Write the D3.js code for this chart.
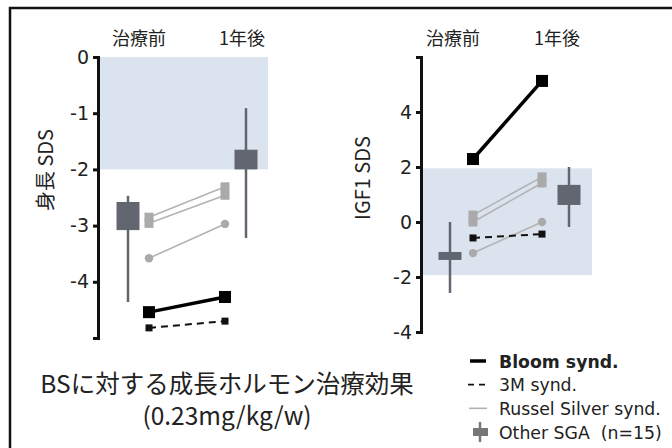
<!DOCTYPE html>
<html>
<head>
<meta charset="utf-8">
<script src="https://cdn.jsdelivr.net/npm/d3@7"></script>
<style>
  body { margin: 0; background: #fff; }
  svg { display: block; }
  .legend-text { white-space: pre; }
</style>
</head>
<body>
<div id="chart"></div>
<script>
// categories
const phases = ['治療前', '1年後'];

// height SDS (left panel)
const hBloom = [-4.54, -4.27];
const h3M = [-4.82, -4.70];
const hRussel = [[-2.85, -2.31], [-2.96, -2.46], [-3.58, -2.97]];
const hRusselShape = ['square', 'square', 'circle'];
// other SGA: [boxLow, boxHigh, whiskerLow, whiskerHigh]
const hSGA = [[-3.08, -2.58, -4.36, -2.47], [-2.0, -1.65, -3.22, -0.91]];
const hNormal = [-2, 0];
const hTicks = [0, -1, -2, -3, -4];

// IGF1 SDS (right panel)
const gBloom = [2.29, 5.13];
const g3M = [-0.58, -0.44];
const gRussel = [[0.25, 1.64], [0.0, 1.42], [-1.13, 0.0]];
const gSGA = [[-1.38, -1.09, -2.58, 0.0], [0.62, 1.35, -0.18, 2.0]];
const gNormal = [-1.93, 1.95];
const gTicks = [4, 2, 0, -2, -4];

const legendItems = ['Bloom synd.', '3M synd.', 'Russel Silver synd.', 'Other SGA  (n=15)'];

const W = 672, H = 448;
const svg = d3.select('#chart').append('svg').attr('width', W).attr('height', H);
svg.append('rect').attr('width', W).attr('height', H).attr('fill', '#fff');

// frame
svg.append('rect')
  .attr('x', 10).attr('y', 8).attr('width', 720).attr('height', 500)
  .attr('fill', 'none').attr('stroke', '#111').attr('stroke-width', 2.5);

const jp = '"Noto Sans CJK JP", sans-serif';
const lat = '"DejaVu Sans", Verdana, sans-serif';

function panel(cfg) {
  const y = d3.scaleLinear().domain(cfg.domain).range(cfg.yRange);
  const x = d3.scaleLinear().domain([0, 1]).range(cfg.xRange);
  const g = svg.append('g');

  // normal range band
  g.append('rect')
    .attr('x', cfg.axisX).attr('width', cfg.bandRight - cfg.axisX)
    .attr('y', y(cfg.normal[1])).attr('height', y(cfg.normal[0]) - y(cfg.normal[1]))
    .attr('fill', '#dbe3ee');

  // axis
  const ax = g.append('g')
    .attr('transform', 'translate(' + cfg.axisX + ',0)')
    .call(d3.axisLeft(y).tickValues(cfg.ticks).tickSize(5).tickSizeOuter(5)
      .tickFormat(d => String(d)).tickPadding(4));
  ax.select('.domain').attr('stroke', '#111').attr('stroke-width', 3);
  ax.selectAll('.tick line').attr('stroke', '#111').attr('stroke-width', 3);
  ax.selectAll('.tick text')
    .attr('font-family', lat).attr('font-size', 19).attr('fill', '#222');

  // axis title
  g.append('text')
    .attr('transform', 'translate(' + cfg.titleX + ',' + cfg.titleY + ') rotate(-90)')
    .attr('text-anchor', 'middle')
    .attr('font-family', jp).attr('font-size', 20).attr('fill', '#222')
    .text(cfg.title);

  // phase labels
  g.selectAll('.phase').data(phases).enter().append('text')
    .attr('x', (d, i) => x(i) + cfg.labelOff[i])
    .attr('y', 45)
    .attr('text-anchor', 'middle')
    .attr('font-family', jp).attr('font-size', 18).attr('fill', '#222')
    .text(d => d);

  // other SGA
  cfg.sga.forEach(function(s, i) {
    const cx = x(i) + cfg.sgaOff[i];
    g.append('line')
      .attr('x1', cx).attr('x2', cx).attr('y1', y(s[2])).attr('y2', y(s[3]))
      .attr('stroke', '#626670').attr('stroke-width', 2.5);
    g.append('rect')
      .attr('x', cx - 11.5).attr('width', 23)
      .attr('y', y(s[1])).attr('height', y(s[0]) - y(s[1]))
      .attr('fill', '#626670');
  });

  const line = d3.line().x((d, i) => x(i)).y(d => y(d));

  // Russel Silver
  cfg.russel.forEach(function(r, k) {
    g.append('path').attr('d', line(r))
      .attr('fill', 'none').attr('stroke', '#b3b3b3').attr('stroke-width', 1.6);
    r.forEach(function(v, i) {
      if (hRusselShape[k] === 'circle') {
        g.append('circle').attr('cx', x(i)).attr('cy', y(v)).attr('r', 4.2).attr('fill', '#aaa');
      } else {
        g.append('rect').attr('x', x(i) - 4.5).attr('y', y(v) - 4.5)
          .attr('width', 9).attr('height', 9).attr('fill', '#aaa');
      }
    });
  });

  // 3M
  g.append('path').attr('d', line(cfg.m3))
    .attr('fill', 'none').attr('stroke', '#111').attr('stroke-width', 2)
    .attr('stroke-dasharray', '7,5');
  cfg.m3.forEach(function(v, i) {
    g.append('rect').attr('x', x(i) - 3.5).attr('y', y(v) - 3.5)
      .attr('width', 7).attr('height', 7).attr('fill', '#111');
  });

  // Bloom
  g.append('path').attr('d', line(cfg.bloom))
    .attr('fill', 'none').attr('stroke', '#000').attr('stroke-width', 3.5);
  cfg.bloom.forEach(function(v, i) {
    g.append('rect').attr('x', x(i) - 6).attr('y', y(v) - 6)
      .attr('width', 12).attr('height', 12).attr('fill', '#000');
  });
}

panel({
  domain: [-5, 0], yRange: [338, 57], xRange: [149, 225], axisX: 98, bandRight: 268,
  ticks: hTicks, normal: hNormal, title: '身長 SDS', titleX: 53, titleY: 170,
  labelOff: [-10, 17], sgaOff: [-21, 21],
  sga: hSGA, russel: hRussel, m3: h3M, bloom: hBloom
});

panel({
  domain: [-4, 6], yRange: [332, 57], xRange: [473, 542], axisX: 421, bandRight: 592,
  ticks: gTicks, normal: gNormal, title: 'IGF1 SDS', titleX: 370, titleY: 178,
  labelOff: [-20, 15], sgaOff: [-23, 27],
  sga: gSGA, russel: gRussel, m3: g3M, bloom: gBloom
});

// title
svg.append('text').attr('x', 227).attr('y', 393).attr('text-anchor', 'middle')
  .attr('font-family', jp).attr('font-size', 24.5).attr('fill', '#222')
  .text('BSに対する成長ホルモン治療効果');
svg.append('text').attr('x', 227).attr('y', 425).attr('text-anchor', 'middle')
  .attr('font-family', jp).attr('font-size', 24.5).attr('fill', '#222')
  .text('(0.23mg/kg/w)');

// legend
const ly = d3.scalePoint().domain(legendItems).range([361, 432]);
const lg = svg.append('g');
lg.selectAll('text').data(legendItems).enter().append('text')
  .attr('class', 'legend-text')
  .attr('x', 499).attr('y', d => ly(d) + 6.5)
  .attr('font-family', lat).attr('font-size', 17.3)
  .attr('font-weight', (d, i) => i === 0 ? 'bold' : 'normal')
  .attr('fill', '#222')
  .text(d => d);
lg.append('line').attr('x1', 470).attr('x2', 486).attr('y1', ly(legendItems[0])).attr('y2', ly(legendItems[0]))
  .attr('stroke', '#000').attr('stroke-width', 3.5);
lg.append('line').attr('x1', 468).attr('x2', 488).attr('y1', ly(legendItems[1])).attr('y2', ly(legendItems[1]))
  .attr('stroke', '#111').attr('stroke-width', 1.8).attr('stroke-dasharray', '6,5');
lg.append('line').attr('x1', 469).attr('x2', 487).attr('y1', ly(legendItems[2])).attr('y2', ly(legendItems[2]))
  .attr('stroke', '#b3b3b3').attr('stroke-width', 1.6);
const oy = ly(legendItems[3]);
lg.append('line').attr('x1', 480).attr('x2', 480).attr('y1', oy - 10).attr('y2', oy + 10)
  .attr('stroke', '#777').attr('stroke-width', 2.5);
lg.append('rect').attr('x', 473).attr('y', oy - 4).attr('width', 15).attr('height', 8).attr('fill', '#777');
</script>
</body>
</html>
